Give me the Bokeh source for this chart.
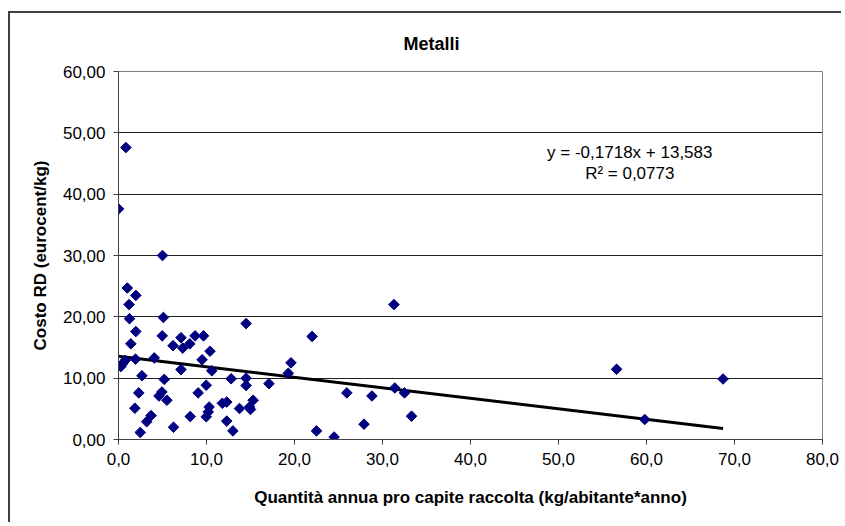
from bokeh.plotting import figure
from bokeh.models import Range1d, Label, FixedTicker
from bokeh.embed import file_html
from bokeh.resources import INLINE

# ---- data ----
x_vals = [0.0, 0.84, 5.0, 1.0, 1.97, 1.2, 1.25, 5.1, 1.97, 4.97, 7.1, 8.7, 9.66,
          1.4, 6.2, 7.3, 8.1, 10.4, 1.93, 4.06, 0.76, 0.27, 0.5, 9.5, 7.1, 10.6,
          2.66, 5.2, 9.97, 2.3, 4.93, 4.6, 9.05, 5.5, 1.86, 3.7, 3.2, 2.47, 6.25,
          8.15, 9.97, 10.3, 10.2, 11.8, 12.3, 12.3, 13.0, 12.8, 14.5, 14.5, 14.5,
          13.75, 15.0, 15.3, 14.9, 17.1, 19.6, 19.3, 22.0, 22.5, 24.5, 25.95,
          27.9, 28.8, 31.3, 31.4, 32.5, 33.3, 56.6, 59.8, 68.7]
y_vals = [37.6, 47.6, 30.0, 24.7, 23.5, 22.0, 19.7, 19.9, 17.6, 16.9, 16.6, 16.9, 16.9,
          15.6, 15.3, 14.9, 15.6, 14.4, 13.1, 13.3, 12.9, 11.9, 12.4, 13.0, 11.4, 11.2,
          10.4, 9.8, 8.85, 7.6, 7.75, 7.1, 7.6, 6.4, 5.1, 3.9, 2.9, 1.15, 2.0,
          3.75, 3.7, 5.3, 4.5, 5.9, 6.1, 3.0, 1.4, 9.9, 10.0, 8.8, 18.9,
          5.05, 4.9, 6.4, 5.3, 9.1, 12.5, 10.8, 16.8, 1.4, 0.4, 7.6,
          2.5, 7.1, 22.0, 8.4, 7.6, 3.8, 11.45, 3.26, 9.87]

trend_slope = -0.1718
trend_intercept = 13.583

x_ticks = [0, 10, 20, 30, 40, 50, 60, 70, 80]
x_tick_labels = ["0,0", "10,0", "20,0", "30,0", "40,0", "50,0", "60,0", "70,0", "80,0"]
y_ticks = [0, 10, 20, 30, 40, 50, 60]
y_tick_labels = ["0,00", "10,00", "20,00", "30,00", "40,00", "50,00", "60,00"]

title_text = "Metalli"
x_title = "Quantità annua pro capite raccolta (kg/abitante*anno)"
y_title = "Costo RD (eurocent/kg)"
eq_text = "y = -0,1718x + 13,583"
r2_text = "R² = 0,0773"

FONT = "Liberation Sans"

p = figure(width=833, height=511, output_backend="svg", toolbar_location=None,
           x_range=Range1d(0, 80), y_range=Range1d(0, 60),
           min_border_left=108, min_border_right=21,
           min_border_top=58, min_border_bottom=85)
# chart-area border: only its top and left edges are visible in the reference
p.styles = {"border-top": "2px solid #404040", "border-left": "2px solid #404040",
            "margin-left": "8px", "margin-top": "11px"}

p.background_fill_color = "white"
p.border_fill_color = "white"
p.outline_line_color = "#808080"
p.outline_line_width = 1

# title
p.title.text = title_text
p.title.text_font = FONT
p.title.text_font_size = "18px"
p.title.text_font_style = "bold"
p.title.text_color = "black"
p.title.align = "left"
p.title.offset = 285
p.title.standoff = 36

# grid
p.xgrid.grid_line_color = None
p.ygrid.ticker = FixedTicker(ticks=y_ticks)
p.ygrid.grid_line_color = "#202020"
p.ygrid.grid_line_width = 1

# axes
p.xaxis.ticker = FixedTicker(ticks=x_ticks)
p.yaxis.ticker = FixedTicker(ticks=y_ticks)
p.xaxis.major_label_overrides = {t: l for t, l in zip(x_ticks, x_tick_labels)}
p.yaxis.major_label_overrides = {t: l for t, l in zip(y_ticks, y_tick_labels)}
for ax in (p.xaxis[0], p.yaxis[0]):
    ax.axis_line_color = "#404040"
    ax.axis_line_width = 1
    ax.major_tick_line_color = "#404040"
    ax.major_tick_out = 5
    ax.major_tick_in = 0
    ax.minor_tick_line_color = None
    ax.major_label_text_font = FONT
    ax.major_label_text_font_size = "17px"
    ax.major_label_text_color = "black"
    ax.axis_label_text_font = FONT
    ax.axis_label_text_font_size = "17px"
    ax.axis_label_text_font_style = "bold"
    ax.axis_label_text_color = "black"
p.xaxis.axis_label = x_title
p.yaxis.axis_label = y_title
p.xaxis.major_label_standoff = 8
p.yaxis.major_label_standoff = 8
p.xaxis.axis_label_standoff = 20
p.yaxis.axis_label_standoff = 10

# trendline
x0, x1 = 0.0, max(x_vals)
p.line([x0, x1], [trend_intercept + trend_slope * x0, trend_intercept + trend_slope * x1],
       line_color="black", line_width=3)

# points
p.scatter(x_vals, y_vals, marker="square", angle=0.785398, size=7.5,
          fill_color="#000080", line_color="#000080")

# equation labels
p.add_layout(Label(x=58.1, y=46.8, text=eq_text, text_font=FONT,
                   text_font_size="17px", text_align="center", text_baseline="middle",
                   text_color="black"))
p.add_layout(Label(x=58.1, y=43.4, text=r2_text, text_font=FONT,
                   text_font_size="17px", text_align="center", text_baseline="middle",
                   text_color="black"))

open("out.html", "w").write(file_html(p, INLINE))
